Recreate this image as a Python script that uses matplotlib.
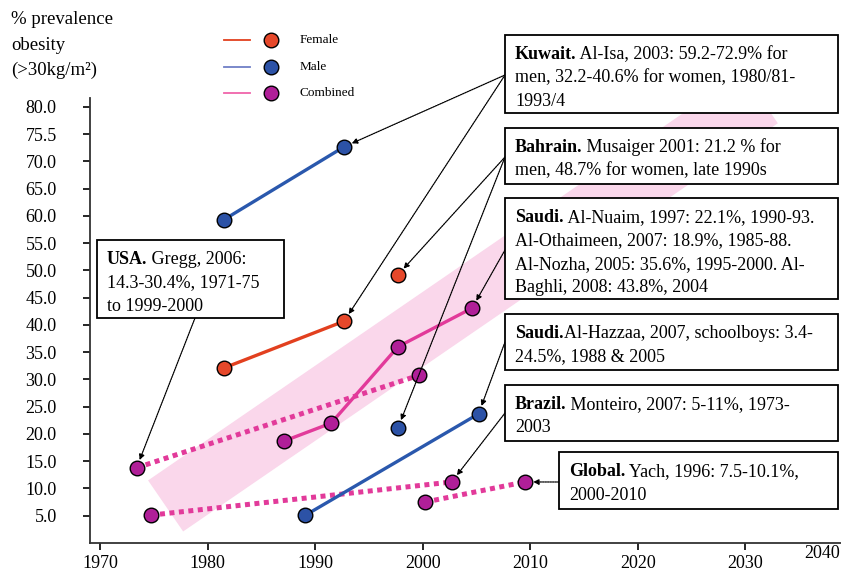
import matplotlib
matplotlib.use("Agg")
import matplotlib.pyplot as plt
from matplotlib.patches import Rectangle
from matplotlib.lines import Line2D

plt.rcParams['font.family'] = ['Liberation Serif', 'DejaVu Serif']

# ---------------- data ----------------
kuwait_years = [1981.5, 1992.7]
kuwait_male = [59.3, 72.7]
kuwait_female = [32.1, 40.7]

bahrain_year = [1997.7]
bahrain_female = [49.2]
bahrain_male = [21.1]

saudi_years = [1987.1, 1991.5, 1997.7, 2004.6]
saudi_combined = [18.7, 22.0, 36.0, 43.1]

saudi_boys_years = [1989.1, 2005.2]
saudi_boys_values = [5.1, 23.7]

usa_years = [1973.4, 1999.7]
usa_values = [13.8, 30.8]

brazil_years = [1974.7, 2002.7]
brazil_values = [5.1, 11.2]

global_years = [2000.2, 2009.5]
global_values = [7.5, 11.2]

trend_years = [1976.1, 2031.4]
trend_values = [6.8, 81.7]

y_ticks = [5, 10, 15, 20, 25, 30, 35, 40, 45, 50, 55, 60, 65, 70, 75, 80]
y_tick_labels = ["5.0", "10.0", "15.0", "20.0", "25.0", "30.0", "35.0", "40.0",
                 "45.0", "50.0", "55.0", "60.0", "65.0", "70.0", "75.5", "80.0"]
x_ticks = [1970, 1980, 1990, 2000, 2010, 2020, 2030]
x_tick_labels = ["1970", "1980", "1990", "2000", "2010", "2020", "2030"]
last_x_label = "2040"

y_title_lines = ["% prevalence", "obesity", "(>30kg/m²)"]
legend_labels = ["Female", "Male", "Combined"]

# ---------------- style ----------------
W, H = 841, 574
C_FEM_LINE = '#e2401f'
C_FEM_MK = '#e6482a'
C_MALE_LINE = '#2a58ad'
C_MALE_MK = '#2c52a6'
C_COMB_LINE = '#e23a9a'
C_COMB_MK = '#b01f98'
C_BAND = '#fad7eb'

def fx(x):
    return x / W

def fy(y):
    return 1 - y / H

fig = plt.figure(figsize=(W / 100, H / 100), dpi=100)
ax = fig.add_axes([fx(90), fy(543), fx(841) - fx(90), fy(98) - fy(543)])
ax.set_xlim(1969.07, 2038.9)
ax.set_ylim(0, 81.65)
for s in ['top', 'right']:
    ax.spines[s].set_visible(False)
for s in ['left', 'bottom']:
    ax.spines[s].set_linewidth(1.3)
    ax.spines[s].set_color('#333333')

ax.set_yticks(y_ticks)
ax.set_yticklabels(y_tick_labels)
ax.set_xticks(x_ticks)
ax.set_xticklabels(x_tick_labels)
ax.tick_params(axis='y', direction='out', length=5, width=1.2, pad=19, labelsize=13)
ax.tick_params(axis='x', direction='out', length=5, width=1.2, pad=4, labelsize=13)

# trend band
ax.plot(trend_years, trend_values, color=C_BAND, lw=44.6, solid_capstyle='butt',
        zorder=0, clip_on=False)

mk = dict(marker='o', ms=10.5, mec='black', mew=1.0)
ax.plot(kuwait_years, kuwait_male, color=C_MALE_LINE, lw=2.4, mfc=C_MALE_MK, zorder=3, **mk)
ax.plot(kuwait_years, kuwait_female, color=C_FEM_LINE, lw=2.4, mfc=C_FEM_MK, zorder=3, **mk)
ax.plot(bahrain_year, bahrain_female, linestyle='none', mfc=C_FEM_MK, zorder=3, **mk)
ax.plot(bahrain_year, bahrain_male, linestyle='none', mfc=C_MALE_MK, zorder=3, **mk)
ax.plot(saudi_years, saudi_combined, color=C_COMB_LINE, lw=2.4, mfc=C_COMB_MK, zorder=3, **mk)
ax.plot(saudi_boys_years, saudi_boys_values, color=C_MALE_LINE, lw=2.4, mfc=C_MALE_MK, zorder=3, **mk)
dot = dict(color=C_COMB_LINE, lw=3.6, linestyle=(0, (1.0, 0.9)), dash_capstyle='butt',
           mfc=C_COMB_MK, zorder=2)
ax.plot(usa_years, usa_values, **dot, **mk)
ax.plot(brazil_years, brazil_values, **dot, **mk)
ax.plot(global_years, global_values, **dot, **mk)

# y title
for i, line in enumerate(y_title_lines):
    fig.text(fx(11), fy(24 + i * 25.5), line, fontsize=13.5, ha='left', va='baseline')

# 2040 label
fig.text(fx(822), fy(554), last_x_label, fontsize=13, ha='center', va='center')

# legend (manual)
leg_lines = [C_FEM_LINE, '#6f7fc6', '#f064aa']
leg_mk = [C_FEM_MK, C_MALE_MK, C_COMB_MK]
for i, lab in enumerate(legend_labels):
    yy = [40, 67, 93][i]
    fig.add_artist(Line2D([fx(224), fx(250)], [fy(yy), fy(yy)], color=leg_lines[i], lw=1.3))
    fig.add_artist(Line2D([fx(271)], [fy(yy)], marker='o', ms=10.5, mfc=leg_mk[i],
                          mec='black', mew=1.0))
    fig.text(fx(300), fy(yy), lab, fontsize=9.5, ha='left', va='center')

# boxes: (rect), bold lead, rest of first line, following lines
boxes = [
    ((505, 35, 838, 113), "Kuwait.", " Al-Isa, 2003: 59.2-72.9% for",
     ["men, 32.2-40.6% for women, 1980/81-", "1993/4"]),
    ((505, 128, 838, 184), "Bahrain.", " Musaiger 2001: 21.2 % for",
     ["men, 48.7% for women, late 1990s"]),
    ((505, 198, 838, 299), "Saudi.", " Al-Nuaim, 1997: 22.1%, 1990-93.",
     ["Al-Othaimeen, 2007: 18.9%, 1985-88.", "Al-Nozha, 2005: 35.6%, 1995-2000. Al-",
      "Baghli, 2008: 43.8%, 2004"]),
    ((505, 314, 838, 370), "Saudi.", "Al-Hazzaa, 2007, schoolboys: 3.4-",
     ["24.5%, 1988 & 2005"]),
    ((505, 385, 838, 441), "Brazil.", " Monteiro, 2007: 5-11%, 1973-", ["2003"]),
    ((559, 452, 838, 509), "Global.", " Yach, 1996: 7.5-10.1%,", ["2000-2010"]),
    ((97, 240, 284, 318), "USA.", " Gregg, 2006:", ["14.3-30.4%, 1971-75", "to 1999-2000"]),
]
renderer = fig.canvas.get_renderer()
FS = 13
STEP = 23.5
for (x0, y0, x1, y1), bold, rest, more in boxes:
    fig.add_artist(Rectangle((fx(x0), fy(y1)), fx(x1) - fx(x0), fy(y0) - fy(y1),
                             transform=fig.transFigure, facecolor='white',
                             edgecolor='black', lw=1.3, zorder=5))
    tx = x0 + 10
    base = y0 + 24
    tb = fig.text(fx(tx), fy(base), bold, fontsize=FS, weight='bold',
                  ha='left', va='baseline', zorder=6)
    wb = tb.get_window_extent(renderer).width
    fig.text(fx(tx + wb), fy(base), rest, fontsize=FS, ha='left', va='baseline', zorder=6)
    for j, line in enumerate(more):
        fig.text(fx(tx), fy(base + (j + 1) * STEP), line, fontsize=FS,
                 ha='left', va='baseline', zorder=6)

# arrows: (source pixel in figure, target data point)
arrows = [
    ((505, 75), (kuwait_years[1], kuwait_male[1])),
    ((505, 75), (kuwait_years[1], kuwait_female[1])),
    ((505, 157), (bahrain_year[0], bahrain_female[0])),
    ((505, 157), (bahrain_year[0], bahrain_male[0])),
    ((505, 250), (saudi_years[-1], saudi_combined[-1])),
    ((505, 342), (saudi_boys_years[-1], saudi_boys_values[-1])),
    ((505, 413), (brazil_years[-1], brazil_values[-1])),
    ((559, 482), (global_years[-1], global_values[-1])),
    ((195, 318), (usa_years[0], usa_values[0])),
]
for (sx, sy), (tx_, ty_) in arrows:
    ax.annotate('', xy=(tx_, ty_), xycoords='data',
                xytext=(fx(sx), fy(sy)), textcoords='figure fraction',
                arrowprops=dict(arrowstyle='-|>', color='black', lw=0.9,
                                linestyle=(0, (1.2, 0.8)), mutation_scale=8,
                                shrinkA=0, shrinkB=6),
                zorder=4, annotation_clip=False)

fig.savefig('out.png', dpi=100)
